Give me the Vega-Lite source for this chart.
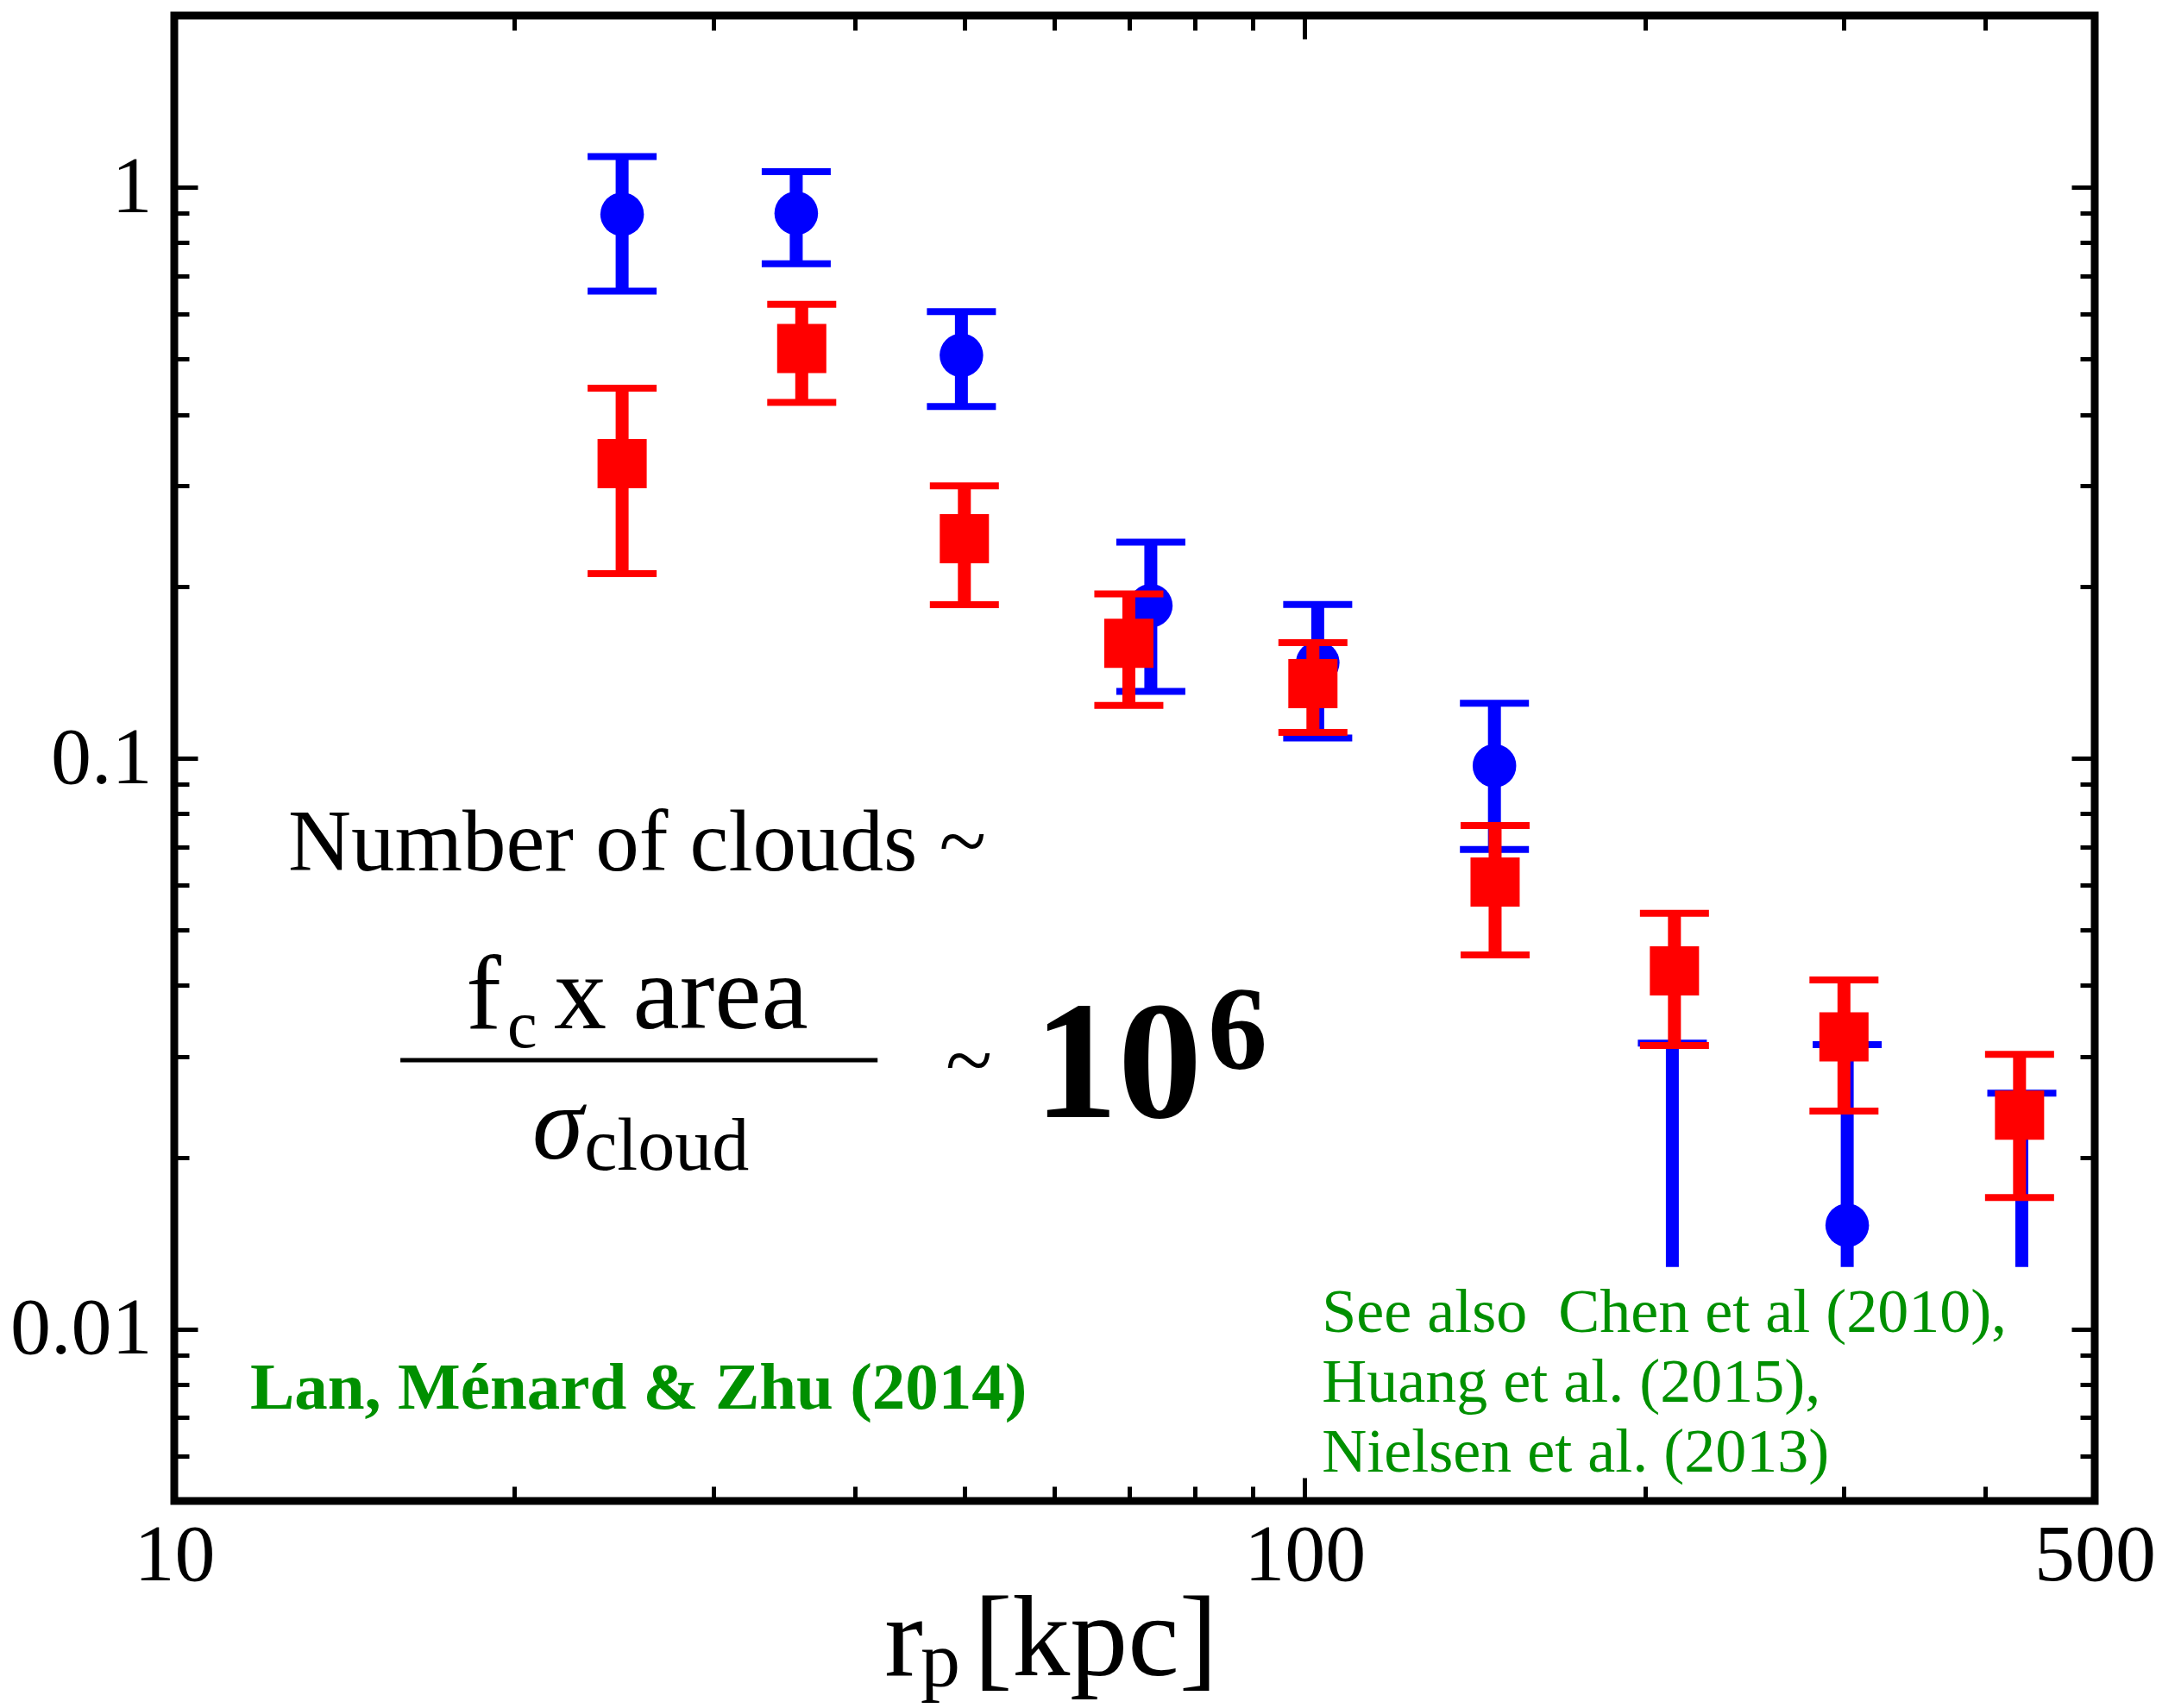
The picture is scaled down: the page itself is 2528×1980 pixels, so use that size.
{
  "$schema": "https://vega.github.io/schema/vega-lite/v6.json",
  "width": 2226,
  "height": 1722,
  "autosize": {"type": "none"},
  "padding": {"left": 202, "top": 18, "right": 100, "bottom": 240},
  "background": "white",
  "config": {
    "view": {"stroke": "black", "strokeWidth": 9},
    "font": "Liberation Serif",
    "text": {"font": "Liberation Serif"}
  },
  "datasets": {
    "pts": [
      {"s": "blue", "r": 24.9, "f": 0.897, "lo": 0.658, "hi": 1.132, "lim": false},
      {"s": "blue", "r": 35.5, "f": 0.901, "lo": 0.735, "hi": 1.065, "lim": false},
      {"s": "blue", "r": 49.7, "f": 0.508, "lo": 0.413, "hi": 0.606, "lim": false},
      {"s": "blue", "r": 73.1, "f": 0.185, "lo": 0.131, "hi": 0.239, "lim": false},
      {"s": "blue", "r": 102.7, "f": 0.147, "lo": 0.1085, "hi": 0.186, "lim": false},
      {"s": "blue", "r": 147.2, "f": 0.097, "lo": 0.0692, "hi": 0.1248, "lim": false},
      {"s": "blue", "r": 211.5, "f": null, "lo": 0.01285, "hi": 0.0317, "lim": true},
      {"s": "blue", "r": 302, "f": 0.0152, "lo": 0.01285, "hi": 0.0315, "lim": true},
      {"s": "blue", "r": 431, "f": null, "lo": 0.01285, "hi": 0.0259, "lim": true},
      {"s": "red", "r": 24.9, "f": 0.328, "lo": 0.2105, "hi": 0.445, "lim": false},
      {"s": "red", "r": 35.9, "f": 0.522, "lo": 0.42, "hi": 0.624, "lim": false},
      {"s": "red", "r": 50.0, "f": 0.2425, "lo": 0.1857, "hi": 0.3, "lim": false},
      {"s": "red", "r": 69.9, "f": 0.159, "lo": 0.1238, "hi": 0.194, "lim": false},
      {"s": "red", "r": 101.7, "f": 0.1351, "lo": 0.111, "hi": 0.1594, "lim": false},
      {"s": "red", "r": 147.4, "f": 0.0607, "lo": 0.04525, "hi": 0.07625, "lim": false},
      {"s": "red", "r": 212.4, "f": 0.0424, "lo": 0.0314, "hi": 0.0535, "lim": false},
      {"s": "red", "r": 300, "f": 0.0325, "lo": 0.0241, "hi": 0.0409, "lim": false},
      {"s": "red", "r": 429, "f": 0.0237, "lo": 0.017, "hi": 0.0303, "lim": false}
    ]
  },
  "data": {"name": "pts"},
  "encoding": {
    "x": {"field": "r", "type": "quantitative", "scale": {"type": "log", "domain": [10, 500], "nice": false}, "axis": null},
    "y": {"field": "f", "type": "quantitative", "scale": {"type": "log", "domain": [0.005, 2], "nice": false}, "axis": null}
  },
  "resolve": {"axis": {"x": "independent", "y": "independent"}},
  "layer": [
    {
      "transform": [{"filter": "datum.s == 'blue'"}],
      "mark": {"type": "rule", "color": "#0000ff", "strokeWidth": 15},
      "encoding": {
        "x": {"field": "r", "type": "quantitative", "scale": {"type": "log", "domain": [10, 500], "nice": false},
          "axis": {"orient": "bottom", "values": [10, 100, 500], "format": "~g", "labelFont": "Liberation Serif", "labelFontSize": 94, "labelColor": "black", "labelPadding": 17, "labelFlush": false, "labelOverlap": false, "labelBound": false, "ticks": false, "domain": false, "grid": false, "title": null}},
        "y": {"field": "lo", "type": "quantitative", "scale": {"type": "log", "domain": [0.005, 2], "nice": false},
          "axis": {"orient": "left", "values": [0.01, 0.1, 1], "format": "~g", "labelFont": "Liberation Serif", "labelFontSize": 94, "labelColor": "black", "labelPadding": 26, "labelFlush": false, "labelOverlap": false, "labelBound": false, "ticks": false, "domain": false, "grid": false, "title": null}},
        "y2": {"field": "hi"}
      }
    },
    {
      "transform": [{"filter": "datum.s == 'blue'"}],
      "mark": {"type": "tick", "orient": "horizontal", "color": "#0000ff", "size": 80, "thickness": 8, "opacity": 1},
      "encoding": {
        "x": {"field": "r", "type": "quantitative", "scale": {"type": "log", "domain": [10, 500], "nice": false},
          "axis": {"orient": "bottom", "values": [20, 30, 40, 50, 60, 70, 80, 90, 100, 200, 300, 400], "labels": false, "domain": false, "grid": false, "ticks": true, "tickColor": "black", "tickWidth": 5,
            "tickSize": {"condition": {"test": "datum.value == 100", "value": -27}, "value": -17}, "title": null}},
        "y": {"field": "hi", "type": "quantitative", "scale": {"type": "log", "domain": [0.005, 2], "nice": false},
          "axis": {"orient": "left", "values": [0.006, 0.007, 0.008, 0.009, 0.01, 0.02, 0.03, 0.04, 0.05, 0.06, 0.07, 0.08, 0.09, 0.1, 0.2, 0.3, 0.4, 0.5, 0.6, 0.7, 0.8, 0.9, 1], "labels": false, "domain": false, "grid": false, "ticks": true, "tickColor": "black", "tickWidth": 5,
            "tickSize": {"condition": {"test": "datum.value == 0.01 || datum.value == 0.1 || datum.value == 1", "value": -27}, "value": -17}, "title": null}}
      }
    },
    {
      "transform": [{"filter": "datum.s == 'blue' && !datum.lim"}],
      "mark": {"type": "tick", "orient": "horizontal", "color": "#0000ff", "size": 80, "thickness": 8, "opacity": 1},
      "encoding": {
        "x": {"field": "r", "type": "quantitative", "scale": {"type": "log", "domain": [10, 500], "nice": false},
          "axis": {"orient": "top", "values": [20, 30, 40, 50, 60, 70, 80, 90, 100, 200, 300, 400], "labels": false, "domain": false, "grid": false, "ticks": true, "tickColor": "black", "tickWidth": 5,
            "tickSize": {"condition": {"test": "datum.value == 100", "value": -27}, "value": -17}, "title": null}},
        "y": {"field": "lo", "type": "quantitative", "scale": {"type": "log", "domain": [0.005, 2], "nice": false},
          "axis": {"orient": "right", "values": [0.006, 0.007, 0.008, 0.009, 0.01, 0.02, 0.03, 0.04, 0.05, 0.06, 0.07, 0.08, 0.09, 0.1, 0.2, 0.3, 0.4, 0.5, 0.6, 0.7, 0.8, 0.9, 1], "labels": false, "domain": false, "grid": false, "ticks": true, "tickColor": "black", "tickWidth": 5,
            "tickSize": {"condition": {"test": "datum.value == 0.01 || datum.value == 0.1 || datum.value == 1", "value": -27}, "value": -17}, "title": null}}
      }
    },
    {
      "transform": [{"filter": "datum.s == 'blue' && datum.f != null"}],
      "mark": {"type": "point", "shape": "circle", "filled": true, "size": 2552, "color": "#0000ff", "opacity": 1, "strokeWidth": 0}
    },
    {
      "transform": [{"filter": "datum.s == 'red'"}],
      "mark": {"type": "rule", "color": "#ff0000", "strokeWidth": 15},
      "encoding": {
        "y": {"field": "lo", "type": "quantitative", "scale": {"type": "log", "domain": [0.005, 2], "nice": false}, "axis": null},
        "y2": {"field": "hi"}
      }
    },
    {
      "transform": [{"filter": "datum.s == 'red'"}],
      "mark": {"type": "tick", "orient": "horizontal", "color": "#ff0000", "size": 80, "thickness": 8, "opacity": 1},
      "encoding": {
        "y": {"field": "hi", "type": "quantitative", "scale": {"type": "log", "domain": [0.005, 2], "nice": false}, "axis": null}
      }
    },
    {
      "transform": [{"filter": "datum.s == 'red'"}],
      "mark": {"type": "tick", "orient": "horizontal", "color": "#ff0000", "size": 80, "thickness": 8, "opacity": 1},
      "encoding": {
        "y": {"field": "lo", "type": "quantitative", "scale": {"type": "log", "domain": [0.005, 2], "nice": false}, "axis": null}
      }
    },
    {
      "transform": [{"filter": "datum.s == 'red'"}],
      "mark": {"type": "point", "shape": "square", "filled": true, "size": 3249, "color": "#ff0000", "opacity": 1, "strokeWidth": 0}
    },
    {
      "data": {"values": [{"r": 12.61, "f": 0.0636, "t": "Number of clouds ~"}]},
      "mark": {"type": "text", "font": "Liberation Serif", "fontSize": 101, "color": "black", "align": "left", "baseline": "alphabetic"},
      "encoding": {"text": {"field": "t"}}
    },
    {
      "data": {"values": [{"r": 18.12, "f": 0.03366, "t": "f"}, {"r": 21.67, "f": 0.03366, "t": "x area"}]},
      "mark": {"type": "text", "font": "Liberation Serif", "fontSize": 122, "color": "black", "align": "left", "baseline": "alphabetic"},
      "encoding": {"text": {"field": "t"}}
    },
    {
      "data": {"values": [{"r": 19.71, "f": 0.03119, "t": "c"}]},
      "mark": {"type": "text", "font": "Liberation Serif", "fontSize": 78, "color": "black", "align": "left", "baseline": "alphabetic"},
      "encoding": {"text": {"field": "t"}}
    },
    {
      "data": {"values": [{"r": 15.85, "r2": 41.9, "f": 0.0296}]},
      "mark": {"type": "rule", "color": "black", "strokeWidth": 5},
      "encoding": {"x2": {"field": "r2"}}
    },
    {
      "data": {"values": [{"r": 20.74, "f": 0.01991, "t": "σ"}]},
      "mark": {"type": "text", "font": "Liberation Serif", "fontSize": 120, "fontStyle": "italic", "color": "black", "align": "left", "baseline": "alphabetic"},
      "encoding": {"text": {"field": "t"}}
    },
    {
      "data": {"values": [{"r": 23.05, "f": 0.01903, "t": "cloud"}]},
      "mark": {"type": "text", "font": "Liberation Serif", "fontSize": 86, "color": "black", "align": "left", "baseline": "alphabetic"},
      "encoding": {"text": {"field": "t"}}
    },
    {
      "data": {"values": [{"r": 48.13, "f": 0.02638, "t": "~"}]},
      "mark": {"type": "text", "font": "Liberation Serif", "fontSize": 100, "color": "black", "align": "left", "baseline": "alphabetic"},
      "encoding": {"text": {"field": "t"}}
    },
    {
      "data": {"values": [{"r": 57.6, "f": 0.02352, "t": "10"}]},
      "mark": {"type": "text", "font": "Liberation Serif", "fontSize": 195, "fontWeight": "bold", "color": "black", "align": "left", "baseline": "alphabetic"},
      "encoding": {"text": {"field": "t"}}
    },
    {
      "data": {"values": [{"r": 82.1, "f": 0.02859, "t": "6"}]},
      "mark": {"type": "text", "font": "Liberation Serif", "fontSize": 138, "fontWeight": "bold", "color": "black", "align": "left", "baseline": "alphabetic"},
      "encoding": {"text": {"field": "t"}}
    },
    {
      "data": {"values": [{"r": 11.67, "f": 0.007261, "t": "Lan, Ménard & Zhu (2014)"}]},
      "mark": {"type": "text", "font": "Liberation Serif", "fontSize": 77, "fontWeight": "bold", "color": "#009000", "align": "left", "baseline": "alphabetic"},
      "encoding": {"text": {"field": "t"}}
    },
    {
      "data": {"values": [
        {"r": 103.6, "f": 0.009897, "t": "See also\u00a0 Chen et al (2010),"},
        {"r": 103.6, "f": 0.007465, "t": "Huang et al. (2015),"},
        {"r": 103.6, "f": 0.005633, "t": "Nielsen et al. (2013)"}
      ]},
      "mark": {"type": "text", "font": "Liberation Serif", "fontSize": 72, "color": "#009000", "align": "left", "baseline": "alphabetic"},
      "encoding": {"text": {"field": "t"}}
    },
    {
      "data": {"values": [{"r": 42.5, "f": 0.002479, "t": "r"}, {"r": 50.97, "f": 0.002479, "t": "[kpc]"}]},
      "mark": {"type": "text", "font": "Liberation Serif", "fontSize": 134, "color": "black", "align": "left", "baseline": "alphabetic"},
      "encoding": {"text": {"field": "t"}}
    },
    {
      "data": {"values": [{"r": 45.74, "f": 0.002369, "t": "p"}]},
      "mark": {"type": "text", "font": "Liberation Serif", "fontSize": 92, "color": "black", "align": "left", "baseline": "alphabetic"},
      "encoding": {"text": {"field": "t"}}
    }
  ]
}
